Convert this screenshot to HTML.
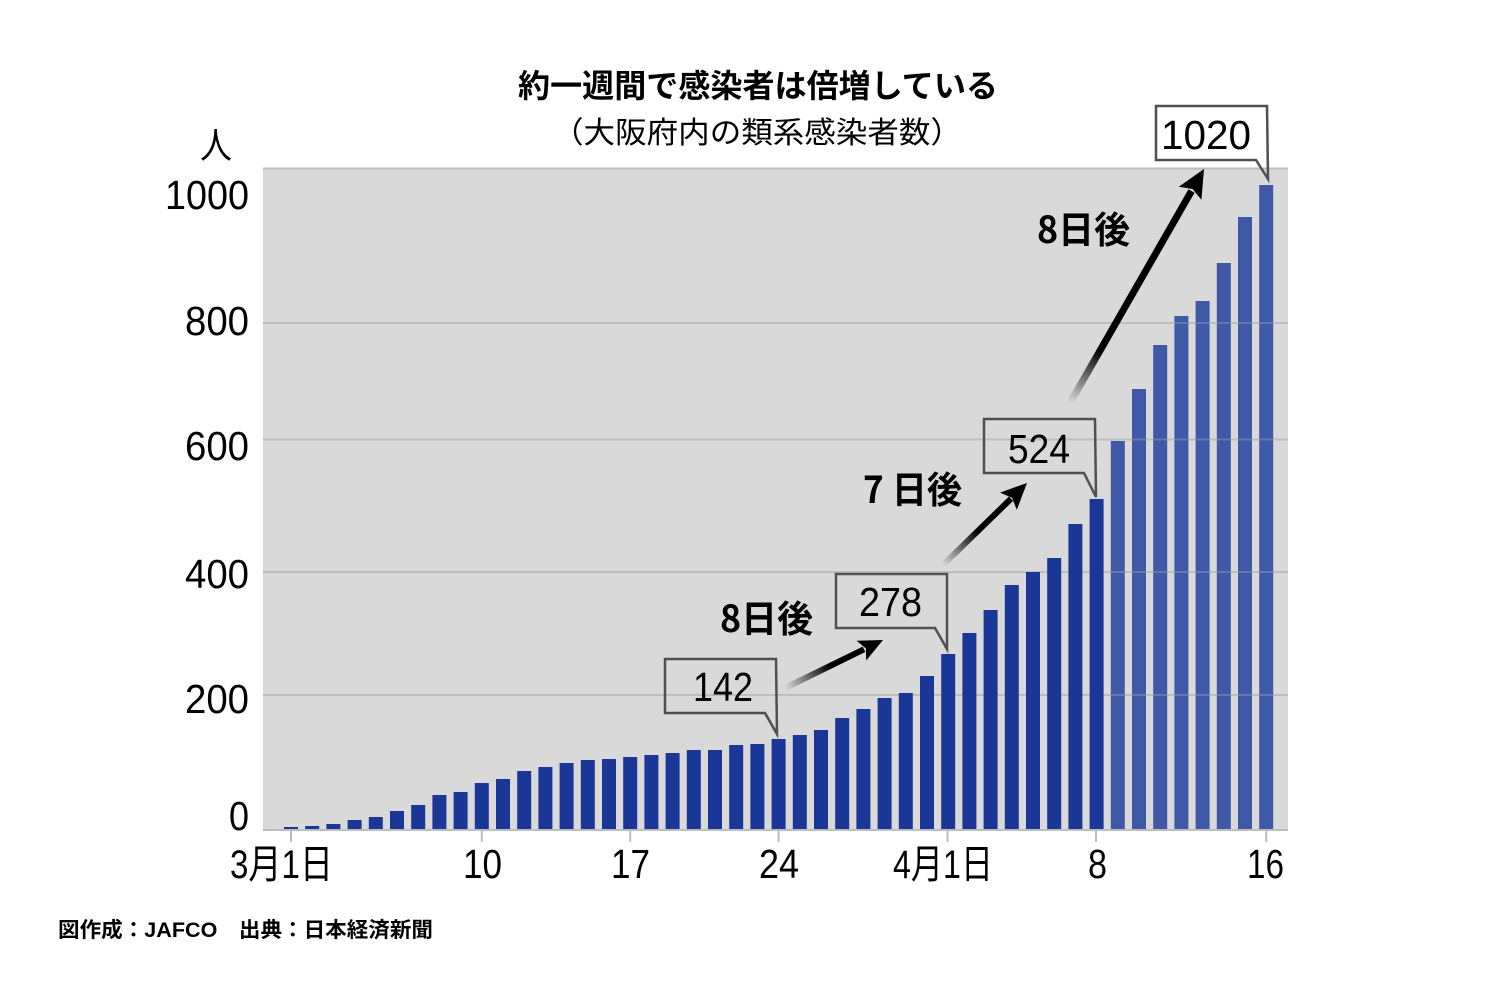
<!DOCTYPE html>
<html><head><meta charset="utf-8"><style>
html,body{margin:0;padding:0;background:#fff;}
svg{display:block;}
text{font-family:"Liberation Sans","Noto Sans CJK JP",sans-serif;fill:#000;}
.cj{font-family:"Noto Sans CJK JP","Liberation Sans",sans-serif;}
</style></head><body>
<svg width="1500" height="1000" viewBox="0 0 1500 1000" xmlns="http://www.w3.org/2000/svg">
<defs>
<linearGradient id="g1" gradientUnits="userSpaceOnUse" x1="785" y1="688" x2="830" y2="666"><stop offset="0" stop-color="#000" stop-opacity="0"/><stop offset="1" stop-color="#000"/></linearGradient>
<linearGradient id="g2" gradientUnits="userSpaceOnUse" x1="943" y1="565" x2="978" y2="531"><stop offset="0" stop-color="#000" stop-opacity="0"/><stop offset="1" stop-color="#000"/></linearGradient>
<linearGradient id="g3" gradientUnits="userSpaceOnUse" x1="1070" y1="403" x2="1100" y2="350"><stop offset="0" stop-color="#000" stop-opacity="0"/><stop offset="1" stop-color="#000"/></linearGradient>
</defs>
<rect x="263" y="168" width="1025" height="661" fill="#d9d9d9"/>
<g stroke="#bdbdbd" stroke-width="2">
<line x1="263" y1="168.5" x2="1288" y2="168.5"/>
<line x1="263" y1="323" x2="1288" y2="323"/>
<line x1="263" y1="439.5" x2="1288" y2="439.5"/>
<line x1="263" y1="572" x2="1288" y2="572"/>
<line x1="263" y1="695" x2="1288" y2="695"/>
</g>
<g fill="#1a3797">
<rect x="284.0" y="827" width="14" height="2"/>
<rect x="305.2" y="826" width="14" height="3"/>
<rect x="326.4" y="824" width="14" height="5"/>
<rect x="347.6" y="820" width="14" height="9"/>
<rect x="368.8" y="817" width="14" height="12"/>
<rect x="390.0" y="811" width="14" height="18"/>
<rect x="411.2" y="805" width="14" height="24"/>
<rect x="432.4" y="795" width="14" height="34"/>
<rect x="453.6" y="792" width="14" height="37"/>
<rect x="474.8" y="783" width="14" height="46"/>
<rect x="496.0" y="779" width="14" height="50"/>
<rect x="517.2" y="771" width="14" height="58"/>
<rect x="538.4" y="767" width="14" height="62"/>
<rect x="559.6" y="763" width="14" height="66"/>
<rect x="580.8" y="760" width="14" height="69"/>
<rect x="602.0" y="759" width="14" height="70"/>
<rect x="623.2" y="757" width="14" height="72"/>
<rect x="644.4" y="755" width="14" height="74"/>
<rect x="665.6" y="753" width="14" height="76"/>
<rect x="686.8" y="750" width="14" height="79"/>
<rect x="708.0" y="750" width="14" height="79"/>
<rect x="729.2" y="745" width="14" height="84"/>
<rect x="750.4" y="744" width="14" height="85"/>
<rect x="771.6" y="739" width="14" height="90"/>
<rect x="792.8" y="735" width="14" height="94"/>
<rect x="814.0" y="730" width="14" height="99"/>
<rect x="835.2" y="718" width="14" height="111"/>
<rect x="856.4" y="709" width="14" height="120"/>
<rect x="877.6" y="698" width="14" height="131"/>
<rect x="898.8" y="693" width="14" height="136"/>
<rect x="920.0" y="676" width="14" height="153"/>
<rect x="941.2" y="654" width="14" height="175"/>
<rect x="962.4" y="633" width="14" height="196"/>
<rect x="983.6" y="610" width="14" height="219"/>
<rect x="1004.8" y="585" width="14" height="244"/>
<rect x="1026.0" y="572" width="14" height="257"/>
<rect x="1047.2" y="558" width="14" height="271"/>
<rect x="1068.4" y="524" width="14" height="305"/>
<rect x="1089.6" y="499" width="14" height="330"/>
</g>
<g fill="#3f59a6">
<rect x="1110.8" y="441" width="14" height="388"/>
<rect x="1132.0" y="389" width="14" height="440"/>
<rect x="1153.2" y="345" width="14" height="484"/>
<rect x="1174.4" y="316" width="14" height="513"/>
<rect x="1195.6" y="301" width="14" height="528"/>
<rect x="1216.8" y="263" width="14" height="566"/>
<rect x="1238.0" y="217" width="14" height="612"/>
<rect x="1259.2" y="185" width="14" height="644"/>
</g>
<g stroke="#bdbdbd" stroke-width="2" stroke-opacity="0.3">
<line x1="1108" y1="323" x2="1288" y2="323"/>
<line x1="1108" y1="439.5" x2="1288" y2="439.5"/>
<line x1="1108" y1="572" x2="1288" y2="572"/>
<line x1="1108" y1="695" x2="1288" y2="695"/>
</g>
<line x1="263" y1="830" x2="1288" y2="830" stroke="#bdbdbd" stroke-width="2"/>
<g stroke="#bdbdbd" stroke-width="2">
<line x1="291" y1="830" x2="291" y2="842"/>
<line x1="481.8" y1="830" x2="481.8" y2="842"/>
<line x1="630.2" y1="830" x2="630.2" y2="842"/>
<line x1="778.6" y1="830" x2="778.6" y2="842"/>
<line x1="947.5" y1="830" x2="947.5" y2="842"/>
<line x1="1096" y1="830" x2="1096" y2="842"/>
<line x1="1266.2" y1="830" x2="1266.2" y2="842"/>
</g>
<!-- arrows -->
<line x1="785" y1="688" x2="864" y2="649.3" stroke="url(#g1)" stroke-width="6"/>
<polygon points="883,640 866.2,660.5 865.9,648.4 856.6,640.7" fill="#000"/>
<line x1="943" y1="565" x2="1011" y2="498.7" stroke="url(#g2)" stroke-width="6"/>
<polygon points="1027,483 1016.8,509.8 1012,497.7 1000,492.6" fill="#000"/>
<line x1="1070" y1="403" x2="1191.5" y2="191" stroke="url(#g3)" stroke-width="7"/>
<polygon points="1204,169 1201.4,199.8 1192.6,189 1178.8,186.8" fill="#000"/>
<!-- callouts -->
<g fill="none" stroke="#505050" stroke-width="2.5" stroke-linejoin="miter">
<path d="M665,659 L776,659 L777,734 L765,713 L665,713 Z"/>
<path d="M836,574 L947,574 L947,649 L935,628 L836,628 Z"/>
<path d="M984,419 L1095,419 L1096,497 L1084,473 L984,473 Z"/>
<path d="M1156,106 L1267,106 L1268,179 L1256,160 L1156,160 Z"/>
</g>
<g font-size="41">
<text x="693" y="701" textLength="60" lengthAdjust="spacingAndGlyphs">142</text>
<text x="859" y="616" textLength="63" lengthAdjust="spacingAndGlyphs">278</text>
<text x="1008" y="463" textLength="62" lengthAdjust="spacingAndGlyphs">524</text>
<text x="1161" y="149" textLength="90" lengthAdjust="spacingAndGlyphs">1020</text>
</g>
<g font-size="37" font-weight="bold" class="cj">
<text class="cj" x="720" y="632" textLength="93" lengthAdjust="spacingAndGlyphs">8日後</text>
<text class="cj" x="863" y="503" textLength="99" lengthAdjust="spacingAndGlyphs">7 日後</text>
<text class="cj" x="1037" y="243" textLength="93" lengthAdjust="spacingAndGlyphs">8日後</text>
</g>
<!-- titles -->
<text class="cj" x="518" y="97" font-size="32" font-weight="bold" textLength="480" lengthAdjust="spacingAndGlyphs">約一週間で感染者は倍増している</text>
<text class="cj" x="552" y="143" font-size="30" textLength="410" lengthAdjust="spacingAndGlyphs">（大阪府内の類系感染者数）</text>
<text class="cj" x="200" y="158" font-size="36" textLength="32" lengthAdjust="spacingAndGlyphs">人</text>
<!-- y labels -->
<g font-size="41">
<text x="165" y="209" textLength="84" lengthAdjust="spacingAndGlyphs">1000</text>
<text x="185" y="335" textLength="64" lengthAdjust="spacingAndGlyphs">800</text>
<text x="185" y="460" textLength="64" lengthAdjust="spacingAndGlyphs">600</text>
<text x="185" y="588" textLength="64" lengthAdjust="spacingAndGlyphs">400</text>
<text x="185" y="713" textLength="64" lengthAdjust="spacingAndGlyphs">200</text>
<text x="229" y="830" textLength="20" lengthAdjust="spacingAndGlyphs">0</text>
</g>
<!-- x labels -->
<g font-size="41">
<text x="230" y="878" font-size="40" textLength="103" lengthAdjust="spacingAndGlyphs">3月1日</text>
<text x="463" y="878" textLength="39" lengthAdjust="spacingAndGlyphs">10</text>
<text x="611" y="878" textLength="39" lengthAdjust="spacingAndGlyphs">17</text>
<text x="759" y="878" textLength="40" lengthAdjust="spacingAndGlyphs">24</text>
<text x="893" y="878" font-size="40" textLength="100" lengthAdjust="spacingAndGlyphs">4月1日</text>
<text x="1088" y="878" textLength="19" lengthAdjust="spacingAndGlyphs">8</text>
<text x="1247" y="878" textLength="37" lengthAdjust="spacingAndGlyphs">16</text>
</g>
<text x="58" y="937" font-size="21" font-weight="bold" textLength="375" lengthAdjust="spacingAndGlyphs">図作成：JAFCO　出典：日本経済新聞</text>
</svg>
</body></html>
